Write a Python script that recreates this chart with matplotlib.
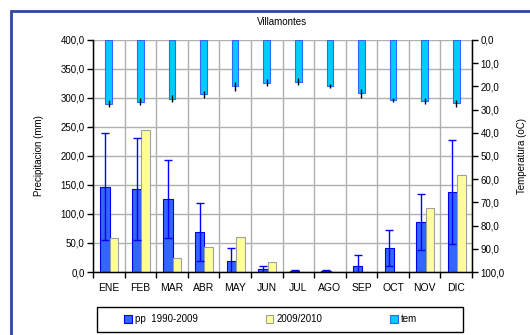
import numpy as np
import matplotlib
matplotlib.use("Agg")
import matplotlib.pyplot as plt
from matplotlib.patches import Rectangle

months = ['ENE', 'FEB', 'MAR', 'ABR', 'MAY', 'JUN', 'JUL', 'AGO', 'SEP', 'OCT', 'NOV', 'DIC']
pp_mean = [147, 143, 126, 69, 19, 5, 2, 2, 10, 42, 86, 138]
pp_err = [92, 88, 67, 50, 22, 5, 1, 1, 19, 31, 48, 90]
pp_2010 = [58, 245, 24, 43, 61, 17, 0, 0, 0, 0, 111, 168]
tem = [27.4, 26.6, 25.4, 23.3, 20.0, 18.5, 18.0, 19.8, 23.0, 25.9, 26.3, 27.3]
tem_err = [1.5, 1.5, 1.5, 1.5, 2.0, 1.5, 1.5, 1.0, 2.0, 1.0, 1.5, 1.5]
left_ticks = [0, 50, 100, 150, 200, 250, 300, 350, 400]
right_ticks = [0, 10, 20, 30, 40, 50, 60, 70, 80, 90, 100]

plt.rcParams['font.family'] = ['Liberation Sans', 'DejaVu Sans']

fig = plt.figure(figsize=(5.3, 3.35), dpi=100)
fig.patch.set_facecolor('white')
ax = fig.add_axes([93/530, 1-272/335, (472-93)/530, (272-40)/335])
x = np.arange(len(months))

ax.set_xlim(-0.5, 11.5)
ax.set_ylim(0, 400)
ax.set_axisbelow(True)

b1 = ax.bar(x - 0.12, pp_mean, width=0.30, color='#3366FF', edgecolor='#0000EE',
            linewidth=0.8, label='pp  1990-2009', zorder=2)
ax.errorbar(x - 0.12, pp_mean, yerr=pp_err, fmt='none', ecolor='#0000FF',
            elinewidth=1, capsize=3, capthick=1, zorder=3)
b2 = ax.bar(x + 0.165, pp_2010, width=0.27, color='#FFFF99', edgecolor='#A0A0A0',
            linewidth=0.8, label='2009/2010', zorder=2)

ax.set_yticks(left_ticks)
ax.set_yticklabels([f"{v:.1f}".replace('.', ',') for v in left_ticks], fontsize=7)
ax.set_xticks(np.arange(-0.5, 12, 1))
ax.set_xticklabels([])
ax.set_xticks(x, minor=True)
ax.set_xticklabels(months, minor=True, fontsize=7.5)
ax.tick_params(axis='x', which='minor', length=0, pad=8)
ax.tick_params(axis='x', which='major', direction='out', length=4, width=1)
ax.tick_params(axis='y', direction='out', length=4, width=1, pad=2)
ax.grid(True, which='major', color='#B0B0B0', linewidth=1)
ax.set_ylabel('Precipitacion (mm)', fontsize=7, labelpad=12)
ax.spines['top'].set_visible(False)
for s in ['left', 'bottom']:
    ax.spines[s].set_linewidth(1)

ax2 = ax.twinx()
ax2.set_ylim(100, 0)
b3 = ax2.bar(x, tem, width=0.21, color='#00CCFF', edgecolor='#3366FF',
             linewidth=0.8, label='tem', zorder=2)
ax2.errorbar(x, tem, yerr=tem_err, fmt='none', ecolor='black',
             elinewidth=1, capsize=0, zorder=3)
ax2.set_yticks(right_ticks)
ax2.set_yticklabels([f"{v:.1f}".replace('.', ',') for v in right_ticks], fontsize=7)
ax2.tick_params(axis='y', direction='out', length=4, width=1, pad=2)
ax2.set_ylabel('Temperatura (oC)', fontsize=7, labelpad=9)
ax2.spines['top'].set_visible(False)
ax2.spines['right'].set_linewidth(1)

fig.text(282/530, 1-22/335, 'Villamontes', ha='center', va='center', fontsize=7)

frame = Rectangle((11/530, -0.1), 1.2, 1 - 11/335 + 0.1, transform=fig.transFigure,
                  fill=False, edgecolor='#2B4A9B', linewidth=2)
fig.add_artist(frame)

legbox = Rectangle((97/530, 1-332/335), (463-97)/530, 25/335, transform=fig.transFigure,
                   fill=True, facecolor='white', edgecolor='black', linewidth=1)
fig.add_artist(legbox)
leg = fig.legend(handles=[b1, b2, b3], labels=['pp  1990-2009', '2009/2010', 'tem'],
                 loc='center left', ncol=3,
                 bbox_to_anchor=(124/530, 1-319.5/335),
                 fontsize=7, frameon=False,
                 handlelength=0.8, handleheight=0.8, handletextpad=0.3,
                 columnspacing=7.0, borderpad=0, borderaxespad=0)

fig.savefig('out.png', dpi=100)
